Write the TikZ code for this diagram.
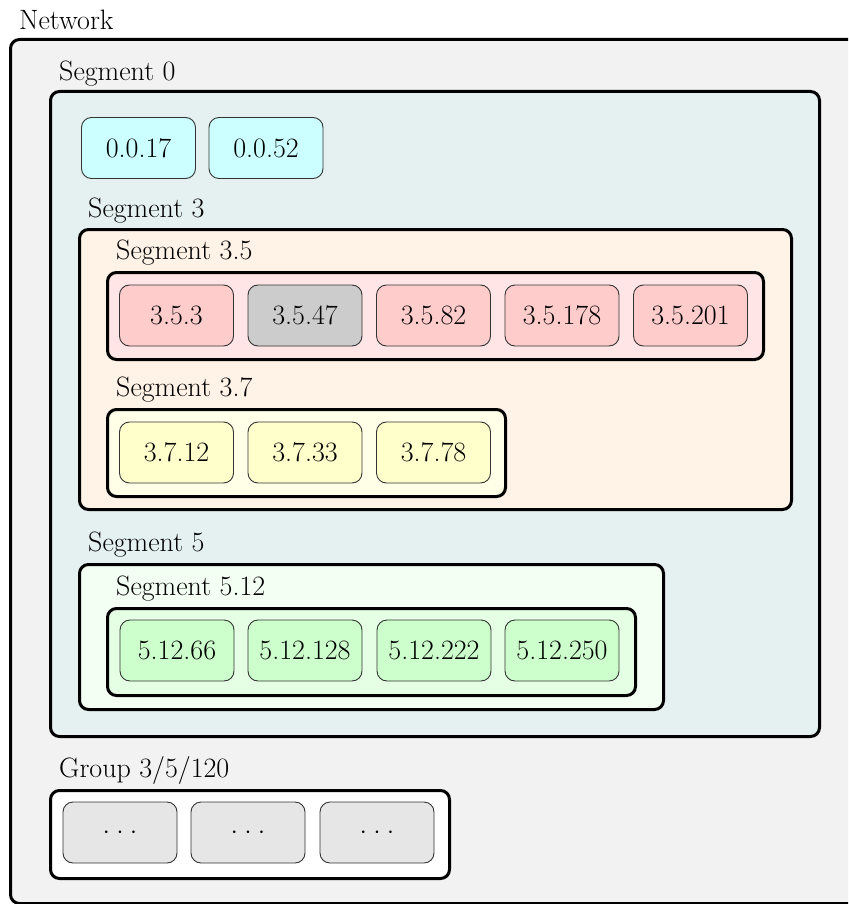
\documentclass[tikz,border=0pt]{standalone}
\usetikzlibrary{positioning}

\definecolor{netfill}{HTML}{F2F2F2}
\definecolor{segzero}{HTML}{E5F0F0}
\definecolor{cyanhost}{HTML}{CCFFFF}
\definecolor{segthree}{HTML}{FFF2E6}
\definecolor{segthreefive}{HTML}{FFE5E5}
\definecolor{pinkhost}{HTML}{FFCCCC}
\definecolor{grayhost}{HTML}{CCCCCC}
\definecolor{segthreeseven}{HTML}{FFFFE8}
\definecolor{yellowhost}{HTML}{FFFFCC}
\definecolor{segfive}{HTML}{F4FFF4}
\definecolor{segfivetwelve}{HTML}{E5FFE5}
\definecolor{greenhost}{HTML}{CCFFCC}
\definecolor{grouphost}{HTML}{E6E6E6}
\definecolor{hostline}{HTML}{333333}

\newcommand{\hostdots}{$\cdotp\kern2.5pt\cdotp\kern2.5pt\cdotp$}

\tikzset{
  x=1pt, y=-1pt,
  every node/.style={font=\fontsize{28}{32}\selectfont},
  container/.style={draw=black, line width=3pt, rounded corners=9pt,
    anchor=north west, inner sep=0pt},
  host/.style={draw=hostline, line width=0.9pt, rounded corners=10pt,
    minimum width=114pt, minimum height=61pt, inner sep=2pt},
  boxlabel/.style={anchor=base west, inner sep=0pt},
}

\begin{document}
\begin{tikzpicture}
  \useasboundingbox (0,0) rectangle (848,904);
  \clip (0,0) rectangle (848,904);
  \fill[white] (0,0) rectangle (848,904);

  % outer network box
  \node[container, fill=netfill, minimum width=860pt, minimum height=864pt]
    (net) at (9,38) {};
  \node[boxlabel] (netlabel) at (19,30) {Network};

  % segment 0
  \node[container, fill=segzero, minimum width=769pt, minimum height=645pt]
    (seg0) at (49,90) {};
  \node[boxlabel] (seg0label) at (59,81) {Segment 0};
  \node[host, fill=cyanhost] (h0a) at (138.5,148) {0.0.17};
  \node[host, fill=cyanhost] (h0b) at (266,148) {0.0.52};

  % segment 3
  \node[container, fill=segthree, minimum width=712pt, minimum height=280pt]
    (seg3) at (78,228) {};
  \node[boxlabel] (seg3label) at (88,217) {Segment 3};

  % segment 3.5
  \node[container, fill=segthreefive, minimum width=656pt, minimum height=87pt]
    (seg35) at (106,271) {};
  \node[boxlabel] (seg35label) at (116,259) {Segment 3.5};
  \node[host, fill=pinkhost] (h35a) at (176.5,315.5) {3.5.3};
  \node[host, fill=grayhost] (h35b) at (305,315.5) {3.5.47};
  \node[host, fill=pinkhost] (h35c) at (433.5,315.5) {3.5.82};
  \node[host, fill=pinkhost] (h35d) at (562,315.5) {3.5.178};
  \node[host, fill=pinkhost] (h35e) at (690.5,315.5) {3.5.201};

  % segment 3.7
  \node[container, fill=segthreeseven, minimum width=398pt, minimum height=87pt]
    (seg37) at (106,408) {};
  \node[boxlabel] (seg37label) at (116,396) {Segment 3.7};
  \node[host, fill=yellowhost] (h37a) at (176.5,452.5) {3.7.12};
  \node[host, fill=yellowhost] (h37b) at (305,452.5) {3.7.33};
  \node[host, fill=yellowhost] (h37c) at (433.5,452.5) {3.7.78};

  % segment 5
  \node[container, fill=segfive, minimum width=584pt, minimum height=145pt]
    (seg5) at (78,563) {};
  \node[boxlabel] (seg5label) at (88,551) {Segment 5};

  % segment 5.12
  \node[container, fill=segfivetwelve, minimum width=528pt, minimum height=87pt]
    (seg512) at (106,607) {};
  \node[boxlabel] (seg512label) at (116,595) {Segment 5.12};
  \node[host, fill=greenhost] (h512a) at (177,650.5) {5.12.66};
  \node[host, fill=greenhost] (h512b) at (305,650.5) {5.12.128};
  \node[host, fill=greenhost] (h512c) at (434,650.5) {5.12.222};
  \node[host, fill=greenhost] (h512d) at (562,650.5) {5.12.250};

  % group 3/5/120
  \node[container, fill=white, minimum width=399pt, minimum height=88pt]
    (grp) at (49,789) {};
  \node[boxlabel] (grplabel) at (59,777) {Group 3/5/120};
  \node[host, fill=grouphost] (hga) at (120,832.5) {\hostdots};
  \node[host, fill=grouphost] (hgb) at (248,832.5) {\hostdots};
  \node[host, fill=grouphost] (hgc) at (377,832.5) {\hostdots};
\end{tikzpicture}
\end{document}
